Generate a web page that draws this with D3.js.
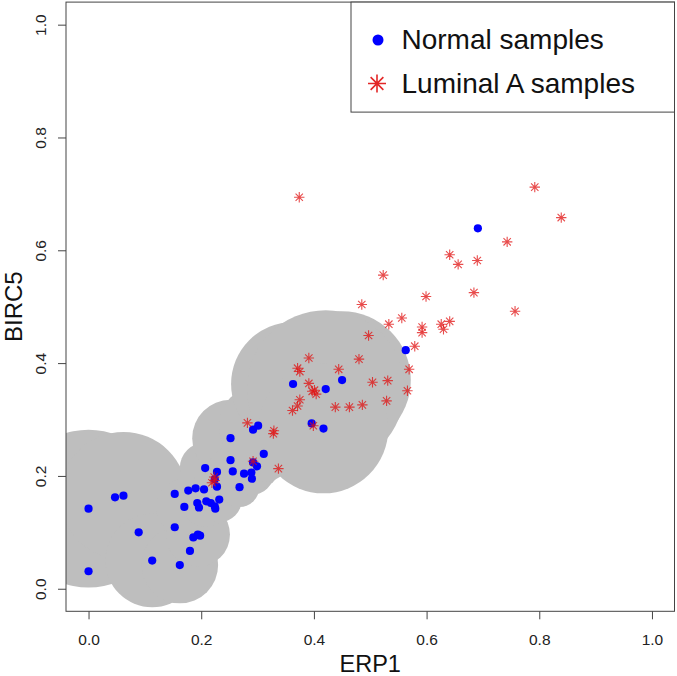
<!DOCTYPE html>
<html><head><meta charset="utf-8">
<script src="https://cdn.jsdelivr.net/npm/d3@7"></script>
<style>body{margin:0;background:#fff}svg{display:block}text{font-family:"Liberation Sans",Arial,Helvetica,sans-serif}</style>
</head><body>
<script>
// ---- data ----
const normalSamples = [
  [0.000,0.142],[0.000,0.031],[0.047,0.162],[0.062,0.165],[0.089,0.100],[0.113,0.050],
  [0.153,0.168],[0.153,0.109],[0.162,0.042],[0.170,0.145],[0.177,0.174],[0.180,0.067],
  [0.186,0.091],[0.190,0.178],[0.193,0.152],[0.194,0.096],[0.198,0.094],[0.196,0.144],
  [0.205,0.176],[0.207,0.214],[0.209,0.155],[0.217,0.152],[0.224,0.146],[0.225,0.142],
  [0.228,0.207],[0.228,0.181],[0.232,0.158],[0.224,0.194],[0.252,0.267],[0.252,0.228],
  [0.256,0.208],[0.268,0.180],[0.276,0.204],[0.289,0.206],[0.290,0.195],[0.299,0.217],
  [0.292,0.224],[0.311,0.239],[0.292,0.282],[0.301,0.289],[0.363,0.363],[0.396,0.293],
  [0.417,0.284],[0.421,0.354],[0.450,0.370],[0.563,0.423],[0.691,0.639]
];
const luminalASamples = [
  [0.374,0.694],[0.792,0.712],[0.839,0.658],[0.743,0.615],[0.641,0.592],[0.656,0.575],
  [0.690,0.582],[0.523,0.556],[0.599,0.518],[0.684,0.525],[0.485,0.504],[0.757,0.492],
  [0.556,0.480],[0.533,0.469],[0.592,0.464],[0.592,0.454],[0.626,0.469],[0.630,0.460],
  [0.641,0.474],[0.497,0.449],[0.579,0.430],[0.391,0.409],[0.480,0.407],[0.371,0.391],
  [0.375,0.385],[0.444,0.389],[0.569,0.389],[0.391,0.364],[0.504,0.366],[0.531,0.369],
  [0.397,0.350],[0.404,0.345],[0.401,0.352],[0.566,0.351],[0.375,0.335],[0.371,0.324],
  [0.362,0.316],[0.438,0.322],[0.463,0.322],[0.486,0.326],[0.529,0.333],[0.399,0.289],
  [0.282,0.294],[0.329,0.280],[0.328,0.275],[0.337,0.213],[0.292,0.226],[0.223,0.198],
  [0.219,0.188],[0.224,0.192]
];
// cover balls around normal samples: [x, y, radius]
const coverBalls = [
  [0.000,0.142,0.140],[0.062,0.165,0.113],[0.113,0.050,0.083],[0.162,0.042,0.068],
  [0.194,0.096,0.057],[0.170,0.145,0.050],[0.209,0.155,0.045],[0.232,0.158,0.040],
  [0.207,0.214,0.045],[0.228,0.194,0.040],[0.252,0.267,0.068],[0.256,0.208,0.045],
  [0.268,0.180,0.035],[0.289,0.206,0.040],[0.299,0.217,0.040],[0.311,0.239,0.050],
  [0.301,0.289,0.070],[0.363,0.363,0.110],[0.450,0.370,0.122],[0.421,0.354,0.140],
  [0.417,0.284,0.115]
];
const ticks = [0.0,0.2,0.4,0.6,0.8,1.0];
const tickLabels = ["0.0","0.2","0.4","0.6","0.8","1.0"];
const legendLabels = ["Normal samples","Luminal A samples"];
const xTitle = "ERP1", yTitle = "BIRC5";

// ---- drawing ----
const W = 677, H = 676;
const L = 66, R = 674.5, T = 2.1, B = 611.3;
const x = d3.scaleLinear().domain([-0.04,1.04]).range([L,R]);
const y = d3.scaleLinear().domain([-0.04,1.04]).range([B,T]);
const svg = d3.select("body").append("svg").attr("width",W).attr("height",H);

svg.append("clipPath").attr("id","plotclip").append("rect")
  .attr("x",L).attr("y",T).attr("width",R-L).attr("height",B-T);

const plot = svg.append("g").attr("clip-path","url(#plotclip)");
plot.selectAll("circle.ball").data(coverBalls).join("circle")
  .attr("class","ball").attr("cx",d=>x(d[0])).attr("cy",d=>y(d[1]))
  .attr("r",d=>x(d[2])-x(0)).attr("fill","#bebebe");

plot.selectAll("circle.normal").data(normalSamples).join("circle")
  .attr("class","normal").attr("cx",d=>x(d[0])).attr("cy",d=>y(d[1]))
  .attr("r",4.1).attr("fill","#0000ff");

function asterisk(g, s, sw, col, op){
  const a = s*Math.SQRT1_2;
  const p = `M${-s},0L${s},0M0,${-s}L0,${s}M${-a},${-a}L${a},${a}M${-a},${a}L${a},${-a}`;
  g.append("path").attr("d",p).attr("stroke",col).attr("stroke-width",sw)
   .attr("stroke-opacity",op).attr("fill","none");
}
plot.selectAll("g.lum").data(luminalASamples).join("g")
  .attr("class","lum").attr("transform",d=>`translate(${x(d[0])},${y(d[1])})`)
  .each(function(){ asterisk(d3.select(this),5.2,1.1,"#e01010",0.75); });

// box
svg.append("rect").attr("x",L).attr("y",T).attr("width",R-L).attr("height",B-T)
  .attr("fill","none").attr("stroke","#444").attr("stroke-width",1);

// x axis
const xa = svg.append("g").attr("transform",`translate(0,${B})`)
  .call(d3.axisBottom(x).tickValues(ticks).tickFormat((d,i)=>tickLabels[i]).tickSize(8).tickPadding(0));
xa.select(".domain").remove();
xa.selectAll("line").attr("stroke","#444");
xa.selectAll("text").attr("y",34).attr("dy",0).attr("font-size",15.5).attr("fill","#222")
  .style("font-family",'"Liberation Sans",Arial,sans-serif');

// y axis
const ya = svg.append("g").attr("transform",`translate(${L},0)`)
  .call(d3.axisLeft(y).tickValues(ticks).tickFormat((d,i)=>tickLabels[i]).tickSize(8).tickPadding(0));
ya.select(".domain").remove();
ya.selectAll("line").attr("stroke","#444");
ya.selectAll("text").attr("x",0).attr("dy",0).attr("text-anchor","middle")
  .attr("transform","translate(-20,0) rotate(-90)").attr("font-size",15.5).attr("fill","#222")
  .style("font-family",'"Liberation Sans",Arial,sans-serif');

// titles
svg.append("text").attr("x",(L+R)/2).attr("y",672).attr("text-anchor","middle")
  .attr("font-size",23.5).attr("fill","#111").text(xTitle);
svg.append("text").attr("transform",`translate(21.5,${(T+B)/2}) rotate(-90)`)
  .attr("text-anchor","middle").attr("font-size",24).attr("fill","#111").text(yTitle);

// legend
const lg = svg.append("g");
lg.append("rect").attr("x",351).attr("y",T).attr("width",R-351).attr("height",110)
  .attr("fill","#fff").attr("stroke","#444").attr("stroke-width",1);
lg.append("circle").attr("cx",378).attr("cy",40).attr("r",5.5).attr("fill","#0000ff");
asterisk(lg.append("g").attr("transform","translate(377,83.5)"),9,1.6,"#e01010",0.9);
lg.selectAll("text.lt").data(legendLabels).join("text").attr("class","lt")
  .attr("x",401.5).attr("y",(d,i)=>48.5+i*44.5).attr("font-size",28).attr("fill","#111").text(d=>d);
</script>
</body></html>
